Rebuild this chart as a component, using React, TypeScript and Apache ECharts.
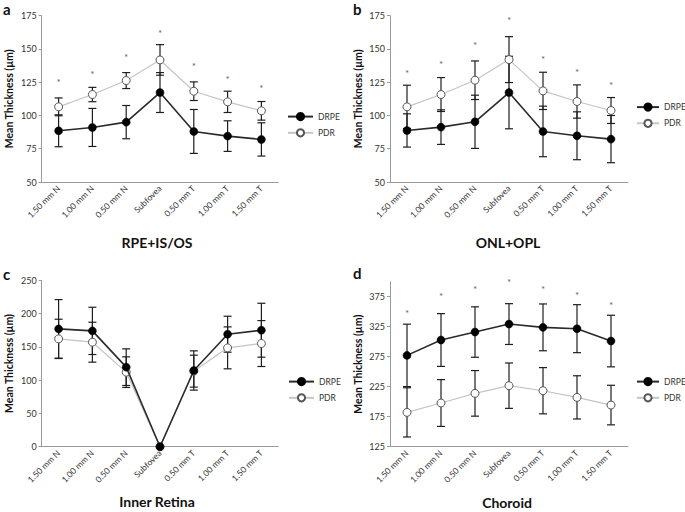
import React, { useEffect, useRef } from 'react';
import * as echarts from 'echarts';

const categories = ['1.50 mm N', '1.00 mm N', '0.50 mm N', 'Subfovea', '0.50 mm T', '1.00 mm T', '1.50 mm T'];

// Panel a — RPE+IS/OS
const aDrpe = [88.5, 91, 95, 117.25, 88, 84.5, 82];
const aDrpeErr = [12, 14.3, 12.5, 15, 16.5, 11.5, 12.5];
const aPdr = [106.5, 115.75, 126.25, 141.75, 118.25, 110.25, 103.5];
const aPdrErr = [6.7, 5.4, 6, 11.5, 7, 8, 7];
const aStar = [127, 132.75, 145.25, 163.75, 138.75, 129.25, 122.5];
const aTicks = [50, 75, 100, 125, 150, 175];

// Panel b — ONL+OPL
const bDrpe = [88.75, 91.25, 95.25, 117.25, 88, 84.75, 82.25];
const bDrpeErr = [12.5, 13, 20, 27.25, 19, 18, 17.75];
const bPdr = [106.5, 115.75, 126.5, 142, 118.5, 110.5, 103.75];
const bPdrErr = [16.25, 12.75, 14.5, 17.25, 14, 12.5, 9.75];
const bStar = [133.5, 140, 154.5, 173.5, 143.75, 134.5, 124.5];
const bTicks = [50, 75, 100, 125, 150, 175];

// Panel c — Inner Retina
const cDrpe = [177, 174, 119.5, 0, 114.5, 169, 175];
const cDrpeErr = [44, 35.5, 27.5, 0, 29.5, 27, 40.5];
const cPdr = [162, 157, 112, 0, 113.5, 148.5, 155];
const cPdrErr = [29.5, 30, 23, 0, 24, 31.5, 34.5];
const cStar: number[] = [];
const cTicks = [0, 50, 100, 150, 200, 250];

// Panel d — Choroid
const dDrpe = [277.2, 302.8, 316.1, 329.4, 323.9, 321.7, 301.1];
const dDrpeErr = [52, 44, 42, 34, 39, 40, 43];
const dPdr = [182.2, 197.8, 213.9, 226.7, 218.3, 207.2, 194.4];
const dPdrErr = [41, 39, 38, 37.8, 38.5, 36, 33];
const dStar = [351.7, 378.9, 390.6, 402.8, 390.6, 381.1, 363.9];
const dTicks = [125, 175, 225, 275, 325, 375];

const panelTitles = ['RPE+IS/OS', 'ONL+OPL', 'Inner Retina', 'Choroid'];
const panelLetters = ['a', 'b', 'c', 'd'];

const FONT = 'Lato, "Open Sans", sans-serif';

export default function App() {
  const ref = useRef<HTMLDivElement>(null);

  useEffect(() => {
    document.body.style.margin = '0';
    if (!ref.current) return;
    const chart = echarts.init(ref.current, undefined, { renderer: 'svg' });

    const panels = [
      { drpe: aDrpe, drpeErr: aDrpeErr, pdr: aPdr, pdrErr: aPdrErr, star: aStar, ticks: aTicks, min: 50, max: 175, step: 25 },
      { drpe: bDrpe, drpeErr: bDrpeErr, pdr: bPdr, pdrErr: bPdrErr, star: bStar, ticks: bTicks, min: 50, max: 175, step: 25 },
      { drpe: cDrpe, drpeErr: cDrpeErr, pdr: cPdr, pdrErr: cPdrErr, star: cStar, ticks: cTicks, min: 0, max: 250, step: 50 },
      { drpe: dDrpe, drpeErr: dDrpeErr, pdr: dPdr, pdrErr: dPdrErr, star: dStar, ticks: dTicks, min: 125, max: 400, step: 25 },
    ];

    const grids = [
      { left: 41.7, top: 15.7, width: 236.6, height: 166.3 },
      { left: 390, top: 15.7, width: 238, height: 166.3 },
      { left: 41.7, top: 280.3, width: 236.6, height: 166.4 },
      { left: 390, top: 281.7, width: 238, height: 165 },
    ];

    const legendPos = [
      { left: 287, top: 112, w: 25 },
      { left: 636, top: 102.5, w: 22 },
      { left: 288, top: 377, w: 25 },
      { left: 636, top: 377, w: 22 },
    ];

    const titlePos = [
      { x: 157, y: 242 },
      { x: 508, y: 242 },
      { x: 157, y: 501 },
      { x: 507, y: 502 },
    ];
    const letterPos = [
      { x: 3, y: 9 },
      { x: 353, y: 9 },
      { x: 3, y: 274 },
      { x: 353, y: 273 },
    ];

    const errRender = (params: any, api: any) => {
      const i = api.value(0);
      const lo = api.coord([i, api.value(1)]);
      const hi = api.coord([i, api.value(2)]);
      const w = 4;
      const style = { stroke: '#1e1e1e', lineWidth: 1.2 };
      return {
        type: 'group',
        children: [
          { type: 'line', shape: { x1: lo[0], y1: lo[1], x2: hi[0], y2: hi[1] }, style },
          { type: 'line', shape: { x1: lo[0] - w, y1: lo[1], x2: lo[0] + w, y2: lo[1] }, style },
          { type: 'line', shape: { x1: hi[0] - w, y1: hi[1], x2: hi[0] + w, y2: hi[1] }, style },
        ],
      };
    };

    const xAxes: any[] = [];
    const yAxes: any[] = [];
    const series: any[] = [];
    const legends: any[] = [];
    const graphics: any[] = [];

    panels.forEach((p, k) => {
      xAxes.push({
        type: 'category',
        gridIndex: k,
        data: categories,
        boundaryGap: true,
        axisLine: { lineStyle: { color: '#9a9a9a', width: 1 } },
        axisTick: { alignWithLabel: true, length: 3, lineStyle: { color: '#9a9a9a' } },
        axisLabel: { rotate: 45, interval: 0, fontSize: 8.5, color: '#333', margin: 5, fontFamily: FONT },
        splitLine: { show: false },
      });
      yAxes.push({
        type: 'value',
        gridIndex: k,
        min: p.min,
        max: p.max,
        interval: p.step,
        name: 'Mean Thickness (µm)',
        nameLocation: 'middle',
        nameGap: 27,
        nameRotate: 90,
        nameTextStyle: { fontSize: 10.5, fontWeight: 'bold', color: '#111', fontFamily: FONT },
        axisLine: { show: true, lineStyle: { color: '#9a9a9a', width: 1 } },
        axisTick: { show: true, length: 3, customValues: p.ticks, lineStyle: { color: '#9a9a9a' } },
        axisLabel: { fontSize: 9, color: '#333', margin: 5, customValues: p.ticks, fontFamily: FONT },
        splitLine: { show: false },
      });

      const pdrErrData = p.pdr.map((v, i) => [i, v - p.pdrErr[i], v + p.pdrErr[i]]).filter((d, i) => p.pdrErr[i] > 0);
      const drpeErrData = p.drpe.map((v, i) => [i, v - p.drpeErr[i], v + p.drpeErr[i]]).filter((d, i) => p.drpeErr[i] > 0);

      series.push({
        type: 'custom',
        name: 'PDR err',
        xAxisIndex: k,
        yAxisIndex: k,
        renderItem: errRender,
        encode: { x: 0, y: [1, 2] },
        data: pdrErrData,
        z: 1,
        silent: true,
      });
      series.push({
        type: 'custom',
        name: 'DRPE err',
        xAxisIndex: k,
        yAxisIndex: k,
        renderItem: errRender,
        encode: { x: 0, y: [1, 2] },
        data: drpeErrData,
        z: 1,
        silent: true,
      });
      series.push({
        type: 'line',
        name: 'PDR',
        xAxisIndex: k,
        yAxisIndex: k,
        data: p.pdr,
        symbol: 'circle',
        symbolSize: 8,
        showAllSymbol: true,
        lineStyle: { color: '#c4c4c4', width: 1.2 },
        itemStyle: { color: '#ffffff', borderColor: '#555', borderWidth: 1 },
        z: 3,
      });
      series.push({
        type: 'line',
        name: 'DRPE',
        xAxisIndex: k,
        yAxisIndex: k,
        data: p.drpe,
        symbol: 'circle',
        symbolSize: 8,
        showAllSymbol: true,
        lineStyle: { color: '#2a2a2a', width: 1.6 },
        itemStyle: { color: '#000000', borderColor: '#000', borderWidth: 0.5 },
        z: 4,
      });
      if (p.star.length) {
        series.push({
          type: 'scatter',
          name: 'sig',
          xAxisIndex: k,
          yAxisIndex: k,
          data: p.star.map((v, i) => [i, v]),
          symbol: 'circle',
          symbolSize: 1,
          clip: false,
          itemStyle: { color: 'rgba(0,0,0,0)' },
          label: {
            show: true,
            position: 'inside',
            formatter: '*',
            fontSize: 10,
            color: '#333',
            offset: [0, 2],
            fontFamily: FONT,
          },
          z: 5,
          silent: true,
        });
      }

      legends.push({
        orient: 'vertical',
        left: legendPos[k].left,
        top: legendPos[k].top,
        itemWidth: legendPos[k].w,
        itemHeight: 9,
        itemGap: 7,
        textGap: 3,
        padding: 0,
        textStyle: { fontSize: 8.5, color: '#333', fontFamily: FONT },
        selectedMode: false,
        data: ['DRPE', 'PDR'],
      });

      graphics.push({
        type: 'text',
        x: titlePos[k].x,
        y: titlePos[k].y,
        style: {
          text: panelTitles[k],
          fill: '#111',
          font: `bold 14px ${FONT}`,
          align: 'center',
          verticalAlign: 'middle',
        },
      });
      graphics.push({
        type: 'text',
        x: letterPos[k].x,
        y: letterPos[k].y,
        style: {
          text: panelLetters[k],
          fill: '#111',
          font: `bold 15px ${FONT}`,
          align: 'left',
          verticalAlign: 'middle',
        },
      });
    });

    chart.setOption({
      animation: false,
      backgroundColor: '#ffffff',
      grid: grids,
      xAxis: xAxes,
      yAxis: yAxes,
      legend: legends,
      series,
      graphic: graphics,
    });

    return () => chart.dispose();
  }, []);

  return <div ref={ref} style={{ width: 685, height: 512 }} />;
}
